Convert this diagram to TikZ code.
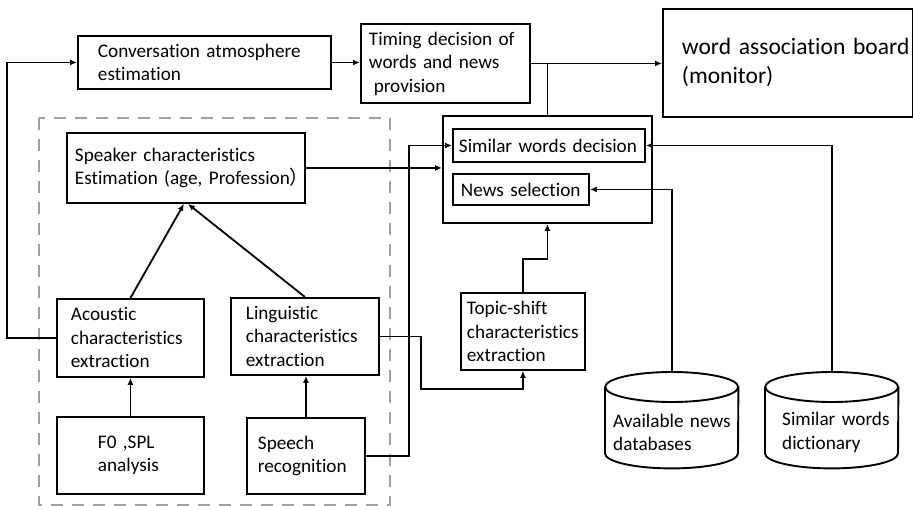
\documentclass[tikz,border=0pt]{standalone}
\usepackage{fontspec}
\setmainfont{Carlito}[Ligatures={NoCommon}]
\newfontfamily\cjk{Noto Sans CJK SC}
\usetikzlibrary{arrows.meta,calc}
\definecolor{dashgray}{RGB}{160,160,160}
\begin{document}
\begin{tikzpicture}[x=1pt,y=-1pt,
  box/.style={draw, line width=1.9pt, inner sep=0pt, align=left, anchor=north west,
    font=\fontsize{19.2}{23.5}\selectfont},
  bigbox/.style={box, font=\fontsize{23.5}{29}\selectfont},
  plain/.style={inner sep=0pt, align=left, anchor=north west,
    font=\fontsize{19.2}{23.5}\selectfont},
  pad/.style={execute at begin node={\leftskip=#1\relax\rightskip=-60pt plus 1fil\relax}},
  outline/.style={draw, line width=1.9pt},
  arr/.style={draw, line width=1.8pt, -{Latex[length=7pt,width=6pt]}},
  wire/.style={draw, line width=1.8pt},
  group/.style={draw=dashgray, line width=2.4pt, dash pattern=on 12pt off 9pt}]
\useasboundingbox (0,0) rectangle (913,506);

% feature extraction group
\draw[group] (39,118) rectangle (390,505);

% top row
\node[box, pad=20pt, text width=253pt, minimum height=53pt] (conv) at (77,35)
  {Conversation atmosphere\\estimation};
\node[box, pad=8pt, text width=169pt, minimum height=79pt] (timing) at (360,23)
  {Timing decision of\\words and news\\\hspace*{0.25em}provision};
\node[bigbox, pad=19pt, text width=250pt, minimum height=108pt] (board) at (662,8)
  {word association board\\(monitor)};

% speaker characteristics branch
\node[box, pad=8pt, text width=238pt, minimum height=70pt] (speaker) at (66,132)
  {Speaker characteristics\\Estimation (age, Profession{\cjk ）}};
\node[box, pad=14pt, text width=147pt, minimum height=78pt] (acoustic) at (56,298)
  {Acoustic\\characteristics\\extraction};
\node[box, pad=15pt, text width=148pt, minimum height=77pt] (ling) at (230,297)
  {Linguistic\\characteristics\\extraction};
\node[box, pad=41pt, text width=147pt, minimum height=77pt] (f0) at (56,416)
  {F0 ,SPL\\analysis};
\node[box, pad=11pt, text width=118pt, minimum height=76pt] (speech) at (246,417)
  {Speech\\recognition};

% decision block
\node[draw, line width=1.9pt, inner sep=0pt, anchor=north west,
  minimum width=209pt, minimum height=107pt] (outer) at (442,115) {};
\node[box, pad=6pt, text width=192pt, minimum height=33pt] (simdec) at (452,128)
  {Similar words decision};
\node[box, pad=8pt, text width=136pt, minimum height=31pt] (newssel) at (452,173)
  {News selection};
\node[box, pad=6pt, text width=124pt, minimum height=77pt] (topic) at (460,292)
  {Topic-shift\\characteristics\\extraction};

% databases
\node[plain, pad=8pt, text width=133pt, minimum height=72pt] (db1) at (605,396)
  {Available news\\databases};
\node[plain, pad=17pt, text width=133pt, minimum height=72pt] (db2) at (765,396)
  {Similar words\\dictionary};
\foreach \db in {db1,db2}{
  \draw[outline] ($(\db.north west)+(0,-9)$) -- ($(\db.south west)+(0,-15)$)
    arc[start angle=180, end angle=360, x radius=66.5pt, y radius=15pt]
    -- ($(\db.north east)+(0,-9)$);
  \draw[outline] ($(\db.north)+(0,-9)$) ellipse [x radius=66.5pt, y radius=15pt];
}
\coordinate (db1top) at ($(db1.north)+(0,-24)$);
\coordinate (db2top) at ($(db2.north)+(0,-24)$);

% connectors
\draw[arr] (acoustic.west) -- ++(-49,0) |- (conv.west);
\draw[arr] (conv.east) -- (conv.east -| timing.west);
\draw[arr] (timing.east) -- (timing.east -| board.west);
\draw[wire] (outer.north) -- (outer.north |- timing.east);
\draw[arr] (speaker.east) -- (speaker.east -| outer.west);
\draw[arr] (acoustic.north) -- ($(speaker.south)+(-2,0)$);
\draw[arr] (ling.north) -- ($(speaker.south)+(2,0)$);
\draw[arr] (f0.north) -- (acoustic.south);
\draw[arr] (speech.north) -- (speech.north |- ling.south);
\draw[arr] (speech.east) -- ++(43,0) |- (simdec.west);
\draw[arr] (ling.east) -- ++(41,0) |- ($(topic.south)+(0,18)$) -- (topic.south);
\draw[arr] (topic.north) |- ($(outer.south)+(0,35)$) -- (outer.south);
\draw[arr] (db1top) |- (newssel.east);
\draw[arr] (db2top) |- (simdec.east);
\end{tikzpicture}
\end{document}
